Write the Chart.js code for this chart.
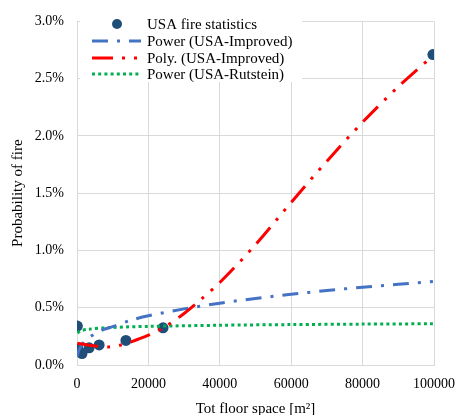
<!DOCTYPE html>
<html>
<head>
<meta charset="utf-8">
<script src="https://cdn.jsdelivr.net/npm/chart.js@4.4.1/dist/chart.umd.min.js"></script>
<style>
  html, body { margin: 0; padding: 0; background: #fff; }
</style>
</head>
<body>
<canvas id="fireChart" width="466" height="415"></canvas>
<script>
// Observed points (x = floor space m2, y = probability in %)
const fireX = [100, 280, 1400, 3400, 6200, 13700, 24100, 99700];
const fireY = [0.34, 0.14, 0.10, 0.15, 0.175, 0.215, 0.325, 2.71];

// Trendlines, values
const powImpX = [100, 300, 700, 1500, 3000, 5000, 7500, 10000, 15000, 20000, 30000, 40000, 50000, 60000, 70000, 80000, 90000, 99700];
const powImpY = [0.075, 0.107, 0.142, 0.183, 0.23, 0.272, 0.311, 0.335, 0.39, 0.43, 0.49, 0.54, 0.581, 0.617, 0.65, 0.679, 0.705, 0.73];

const polyX = [100, 3000, 6000, 9000, 12000, 15000, 20000, 25000, 30000, 35000, 40000, 50000, 60000, 70000, 80000, 90000, 99700];
const polyY = [0.19, 0.175, 0.163, 0.158, 0.172, 0.2, 0.26, 0.34, 0.45, 0.58, 0.72, 1.05, 1.42, 1.78, 2.12, 2.43, 2.70];

const powRutX = [100, 300, 1000, 3000, 10000, 20000, 40000, 60000, 80000, 99700];
const powRutY = [0.28, 0.284, 0.298, 0.312, 0.328, 0.337, 0.347, 0.353, 0.357, 0.36];

const seriesNames = ['USA fire statistics', 'Power (USA-Improved)', 'Poly. (USA-Improved)', 'Power (USA-Rutstein)'];

const xMin = 0, xMax = 100000, xStep = 20000;
const yMin = 0, yMax = 3, yStep = 0.5;

const toPoints = (xs, ys) => xs.map((x, i) => ({ x: x, y: ys[i] }));

const serif = 'Liberation Serif, Times New Roman, serif';

// Legend drawn inside the plot like the spreadsheet does
const insideLegend = {
    id: 'insideLegend',
    afterDatasetsDraw(chart) {
        const ctx = chart.ctx;
        ctx.save();
        ctx.fillStyle = '#fff';
        ctx.fillRect(80, 14, 222, 68);

        const rows = [24, 41, 58, 74];
        chart.data.datasets.forEach((ds, i) => {
            const y = rows[i];
            if (ds.showLine) {
                ctx.strokeStyle = ds.borderColor;
                ctx.lineWidth = ds.borderWidth;
                ctx.setLineDash(ds.borderDash);
                ctx.lineCap = 'butt';
                ctx.beginPath();
                ctx.moveTo(92, y);
                ctx.lineTo(141, y);
                ctx.stroke();
                ctx.setLineDash([]);
            } else {
                ctx.fillStyle = ds.backgroundColor;
                ctx.beginPath();
                ctx.arc(117, y, 5, 0, Math.PI * 2);
                ctx.fill();
            }
            ctx.fillStyle = '#000';
            ctx.font = '15px ' + serif;
            ctx.textBaseline = 'middle';
            ctx.textAlign = 'left';
            ctx.fillText(ds.label, 147, y + 1);
        });
        ctx.restore();
    }
};

const ctx = document.getElementById('fireChart').getContext('2d');

new Chart(ctx, {
    type: 'scatter',
    data: {
        datasets: [
            {
                label: seriesNames[0],
                data: toPoints(fireX, fireY),
                backgroundColor: '#1F4E79',
                pointBackgroundColor: '#1F4E79',
                pointBorderWidth: 0,
                pointRadius: 5.5,
                showLine: false,
                order: 5
            },
            {
                label: seriesNames[1],
                data: toPoints(powImpX, powImpY),
                borderColor: '#4472C4',
                borderWidth: 3,
                borderDash: [16, 9, 3, 9],
                pointRadius: 0,
                showLine: true,
                tension: 0.3,
                order: 2
            },
            {
                label: seriesNames[2],
                data: toPoints(polyX, polyY),
                borderColor: '#FF0000',
                borderWidth: 3,
                borderDash: [21, 9, 3, 9, 3, 9],
                pointRadius: 0,
                showLine: true,
                tension: 0.3,
                order: 1
            },
            {
                label: seriesNames[3],
                data: toPoints(powRutX, powRutY),
                borderColor: '#00B050',
                borderWidth: 3,
                borderDash: [3, 3.2],
                pointRadius: 0,
                showLine: true,
                tension: 0.3,
                order: 3
            }
        ]
    },
    options: {
        responsive: false,
        animation: false,
        layout: { padding: { left: 0, top: 13, right: 32, bottom: 0 } },
        plugins: {
            legend: { display: false },
            tooltip: { enabled: false }
        },
        scales: {
            x: {
                type: 'linear',
                min: xMin, max: xMax,
                afterFit: (scale) => { scale.height = 50; },
                ticks: {
                    stepSize: xStep,
                    padding: 11,
                    color: '#000',
                    font: { family: serif, size: 14 },
                    callback: (v) => String(v)
                },
                grid: { color: '#D9D9D9', lineWidth: 1, drawTicks: false },
                border: { color: '#D9D9D9' },
                title: {
                    display: true,
                    text: 'Tot floor space [m\u00B2]',
                    color: '#000',
                    font: { family: serif, size: 15 },
                    padding: { top: 0, bottom: -3 }
                }
            },
            y: {
                type: 'linear',
                min: yMin, max: yMax,
                afterFit: (scale) => { scale.width = 77; },
                ticks: {
                    stepSize: yStep,
                    padding: 13,
                    color: '#000',
                    font: { family: serif, size: 14 },
                    callback: (v) => v.toFixed(1) + '%'
                },
                grid: { color: '#D9D9D9', lineWidth: 1, drawTicks: false },
                border: { color: '#D9D9D9' },
                title: {
                    display: true,
                    text: 'Probability of fire',
                    color: '#000',
                    font: { family: serif, size: 15 },
                    padding: { top: 9, bottom: 0 }
                }
            }
        }
    },
    plugins: [insideLegend]
});
</script>
</body>
</html>
